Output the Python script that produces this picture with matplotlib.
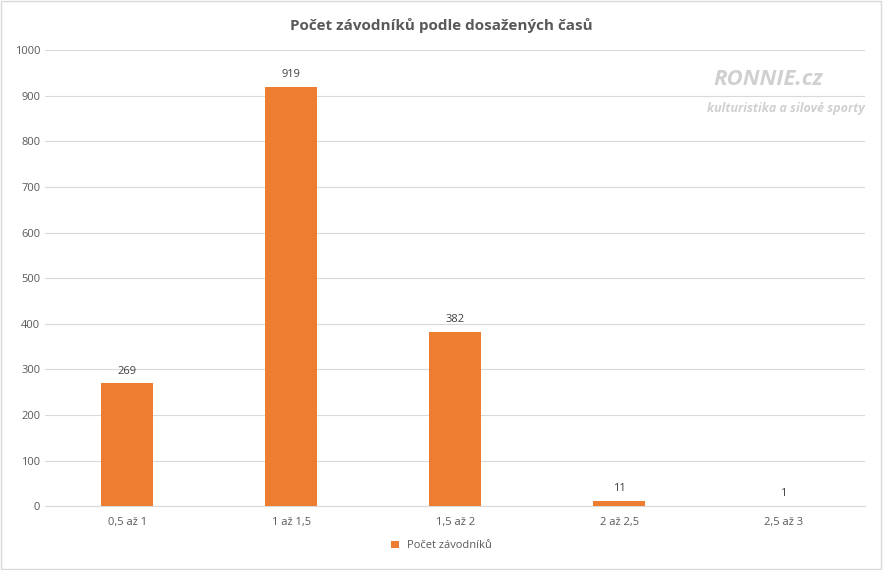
import matplotlib
matplotlib.use("Agg")
import matplotlib.pyplot as plt
from matplotlib.patches import Rectangle

categories = ["0,5 až 1", "1 až 1,5", "1,5 až 2", "2 až 2,5", "2,5 až 3"]
values = [269, 919, 382, 11, 1]
series_name = "Počet závodníků"
title = "Počet závodníků podle dosažených časů"

plt.rcParams['font.family'] = ['Open Sans', 'DejaVu Sans']
fig = plt.figure(figsize=(8.83, 5.70), dpi=100)
fig.patches.append(Rectangle((0.001, 0.001), 0.997, 0.997, transform=fig.transFigure,
                             fill=False, edgecolor="#d9d9d9", linewidth=1))
ax = fig.add_axes([0.051, 0.112, 0.929, 0.8])
color = "#ED7D31"
x = list(range(len(categories)))
bars = ax.bar(x, values, width=0.315, color=color, label=series_name, zorder=3)
for xi, v in zip(x, values):
    ax.text(xi, v + 15, str(v), ha="center", va="bottom", fontsize=8, color="#404040")
ax.set_xlim(-0.5, len(categories) - 0.5)
ax.set_ylim(0, 1000)
ax.set_yticks(range(0, 1001, 100))
ax.set_xticks(x)
ax.set_xticklabels(categories)
ax.tick_params(axis="both", length=0, labelsize=8, colors="#595959")
ax.tick_params(axis="x", pad=8)
ax.grid(axis="y", color="#d9d9d9", linewidth=0.8, zorder=0)
for s in ["top", "right", "left"]:
    ax.spines[s].set_visible(False)
ax.spines["bottom"].set_color("#d9d9d9")
fig.text(0.5, 0.955, title, ha="center", va="center", fontsize=11, fontweight="bold", color="#595959")
fig.text(0.87, 0.86, "RONNIE.cz", ha="center", va="center", fontsize=16, fontweight="bold",
         color="#d0d0d0", style="italic")
fig.text(0.89, 0.81, "kulturistika a silové sporty", ha="center", va="center", fontsize=9,
         fontweight="bold", color="#d0d0d0", style="italic")
fig.legend(loc="lower center", bbox_to_anchor=(0.5, 0.015), frameon=False, fontsize=8,
           handlelength=0.7, handleheight=0.7, labelcolor="#595959")
fig.savefig("out.png", dpi=100)
